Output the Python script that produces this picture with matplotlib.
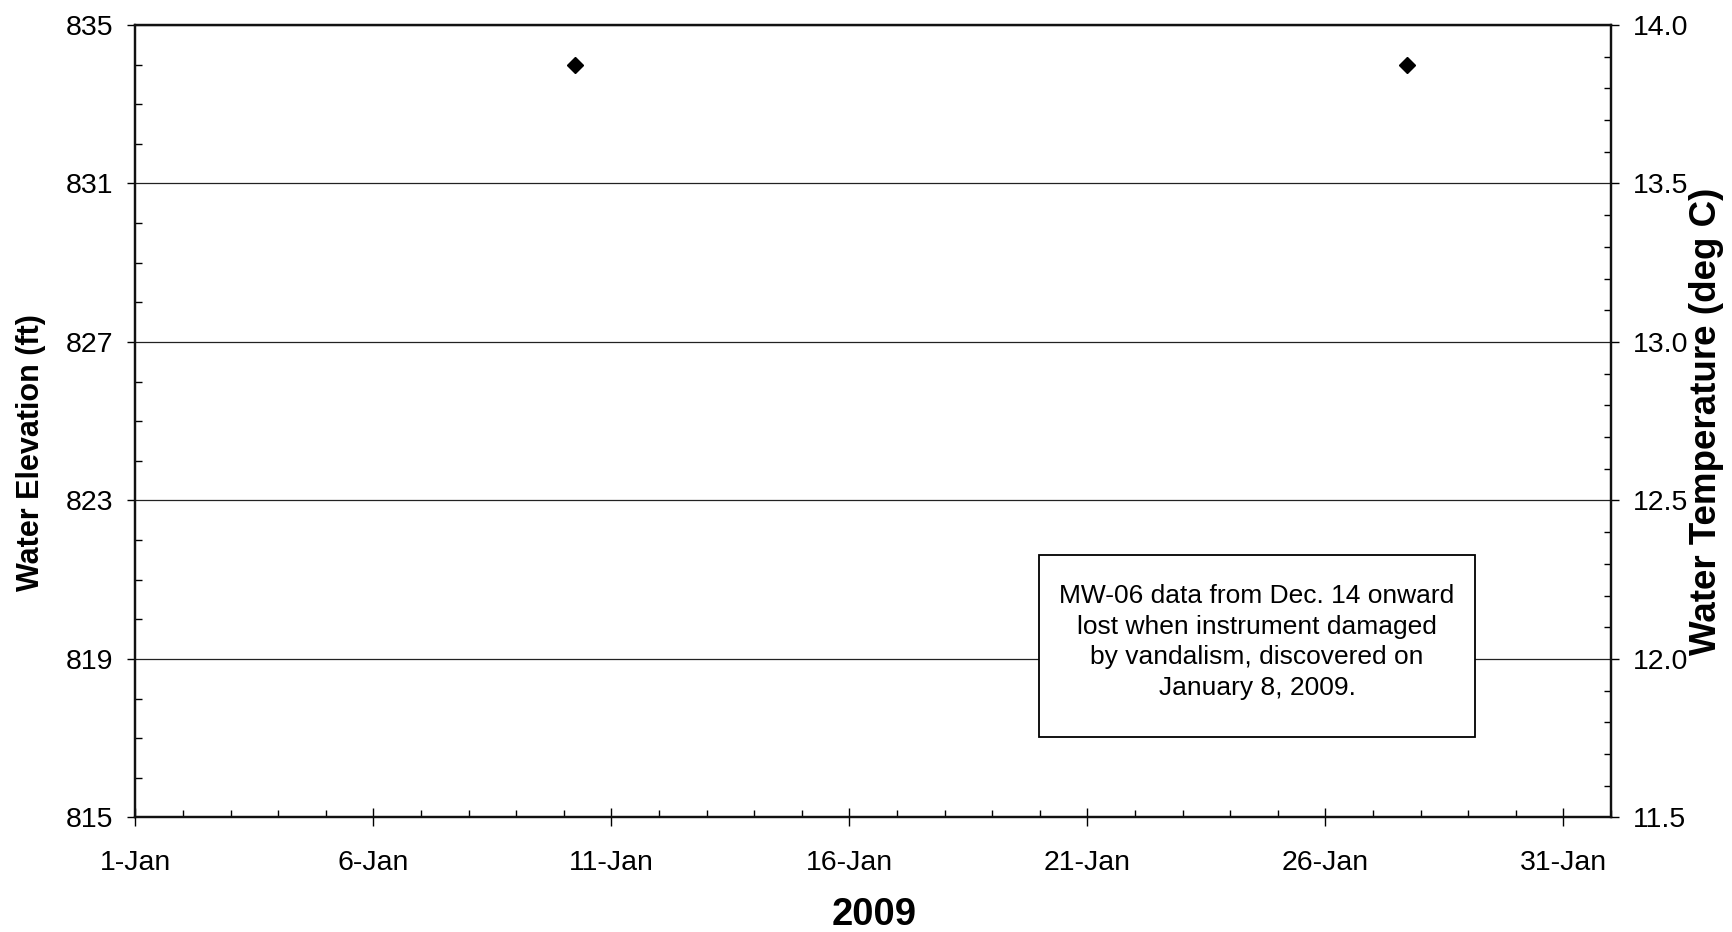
import datetime as dt
import matplotlib
matplotlib.use("Agg")
import matplotlib.pyplot as plt
import matplotlib.dates as mdates
from matplotlib.ticker import MultipleLocator, FixedLocator, FuncFormatter, FormatStrFormatter
from matplotlib.patches import Rectangle

plt.rcParams['font.family'] = ['Liberation Sans', 'DejaVu Sans']

# data: the two readings left before the logger was lost
obs_times = [dt.datetime(2009, 1, 10, 5, 30), dt.datetime(2009, 1, 27, 17, 0)]
obs_elev = [834.0, 834.0]

x_start = dt.datetime(2009, 1, 1)
x_end = dt.datetime(2009, 2, 1)
x_ticks = [dt.datetime(2009, 1, d) for d in (1, 6, 11, 16, 21, 26, 31)]
elev_lim = (815, 835)
elev_ticks = [815, 819, 823, 827, 831, 835]
temp_lim = (11.5, 14.0)

note = ("MW-06 data from Dec. 14 onward\n"
        "lost when instrument damaged\n"
        "by vandalism, discovered on\n"
        "January 8, 2009.")

fig = plt.figure(figsize=(17.32, 9.32), dpi=100)
ax = fig.add_axes([0.0782, 0.1229, 0.8519, 0.8503])
ax2 = ax.twinx()

ax.plot(obs_times, obs_elev, linestyle='none', marker='D', markersize=8.5,
        color='black', zorder=5)

ax.set_xlim(x_start, x_end)
ax.set_ylim(*elev_lim)
ax2.set_ylim(*temp_lim)

# x axis: major every 5 days, minor every day
ax.xaxis.set_major_locator(FixedLocator(mdates.date2num(x_ticks)))
ax.xaxis.set_minor_locator(mdates.DayLocator())
ax.xaxis.set_major_formatter(FuncFormatter(
    lambda v, p: "%d-%s" % (mdates.num2date(v).day, mdates.num2date(v).strftime("%b"))))

ax.yaxis.set_major_locator(FixedLocator(elev_ticks))
ax.yaxis.set_minor_locator(MultipleLocator(1))
ax2.yaxis.set_major_locator(MultipleLocator(0.5))
ax2.yaxis.set_minor_locator(MultipleLocator(0.1))
ax2.yaxis.set_major_formatter(FormatStrFormatter('%.1f'))

ax.tick_params(axis='x', which='major', direction='inout', length=12.5, width=1,
               labelsize=20.5, pad=17)
ax.tick_params(axis='x', which='minor', direction='in', length=5, width=1)
ax.tick_params(axis='y', which='major', direction='out', length=6, width=1,
               labelsize=20.5, pad=10)
ax.tick_params(axis='y', which='minor', direction='in', length=5, width=1)
ax2.tick_params(axis='y', which='major', direction='out', length=6, width=1,
                labelsize=20.5, pad=10)
ax2.tick_params(axis='y', which='minor', direction='in', length=5, width=1)

ax.grid(axis='y', which='major', color='#222222', linewidth=0.9)
ax.set_axisbelow(True)

for a in (ax, ax2):
    for s in a.spines.values():
        s.set_linewidth(1.6)
        s.set_color('#111111')

# axis titles
fig.text(0.018, 0.514, "Water Elevation (ft)", rotation=90, ha='center', va='center',
         fontsize=22, fontweight='bold')
fig.text(0.9855, 0.548, "Water Temperature (deg C)", rotation=90, ha='center', va='center',
         fontsize=26.5, fontweight='bold')
fig.text(0.5046, 0.018, "2009", ha='center', va='center', fontsize=27.5, fontweight='bold')

# note box
bx0, bx1, by0, by1 = 1039, 1475, 932 - 737, 932 - 555
fig.patches.append(Rectangle((bx0 / 1732, by0 / 932), (bx1 - bx0) / 1732, (by1 - by0) / 932,
                             transform=fig.transFigure, facecolor='white',
                             edgecolor='black', linewidth=1.3, zorder=3))
fig.text((bx0 + bx1) / 2 / 1732, 1 - 642 / 932, note, ha='center', va='center',
         fontsize=19, linespacing=1.36, zorder=4)

fig.savefig("out.png", dpi=100)
